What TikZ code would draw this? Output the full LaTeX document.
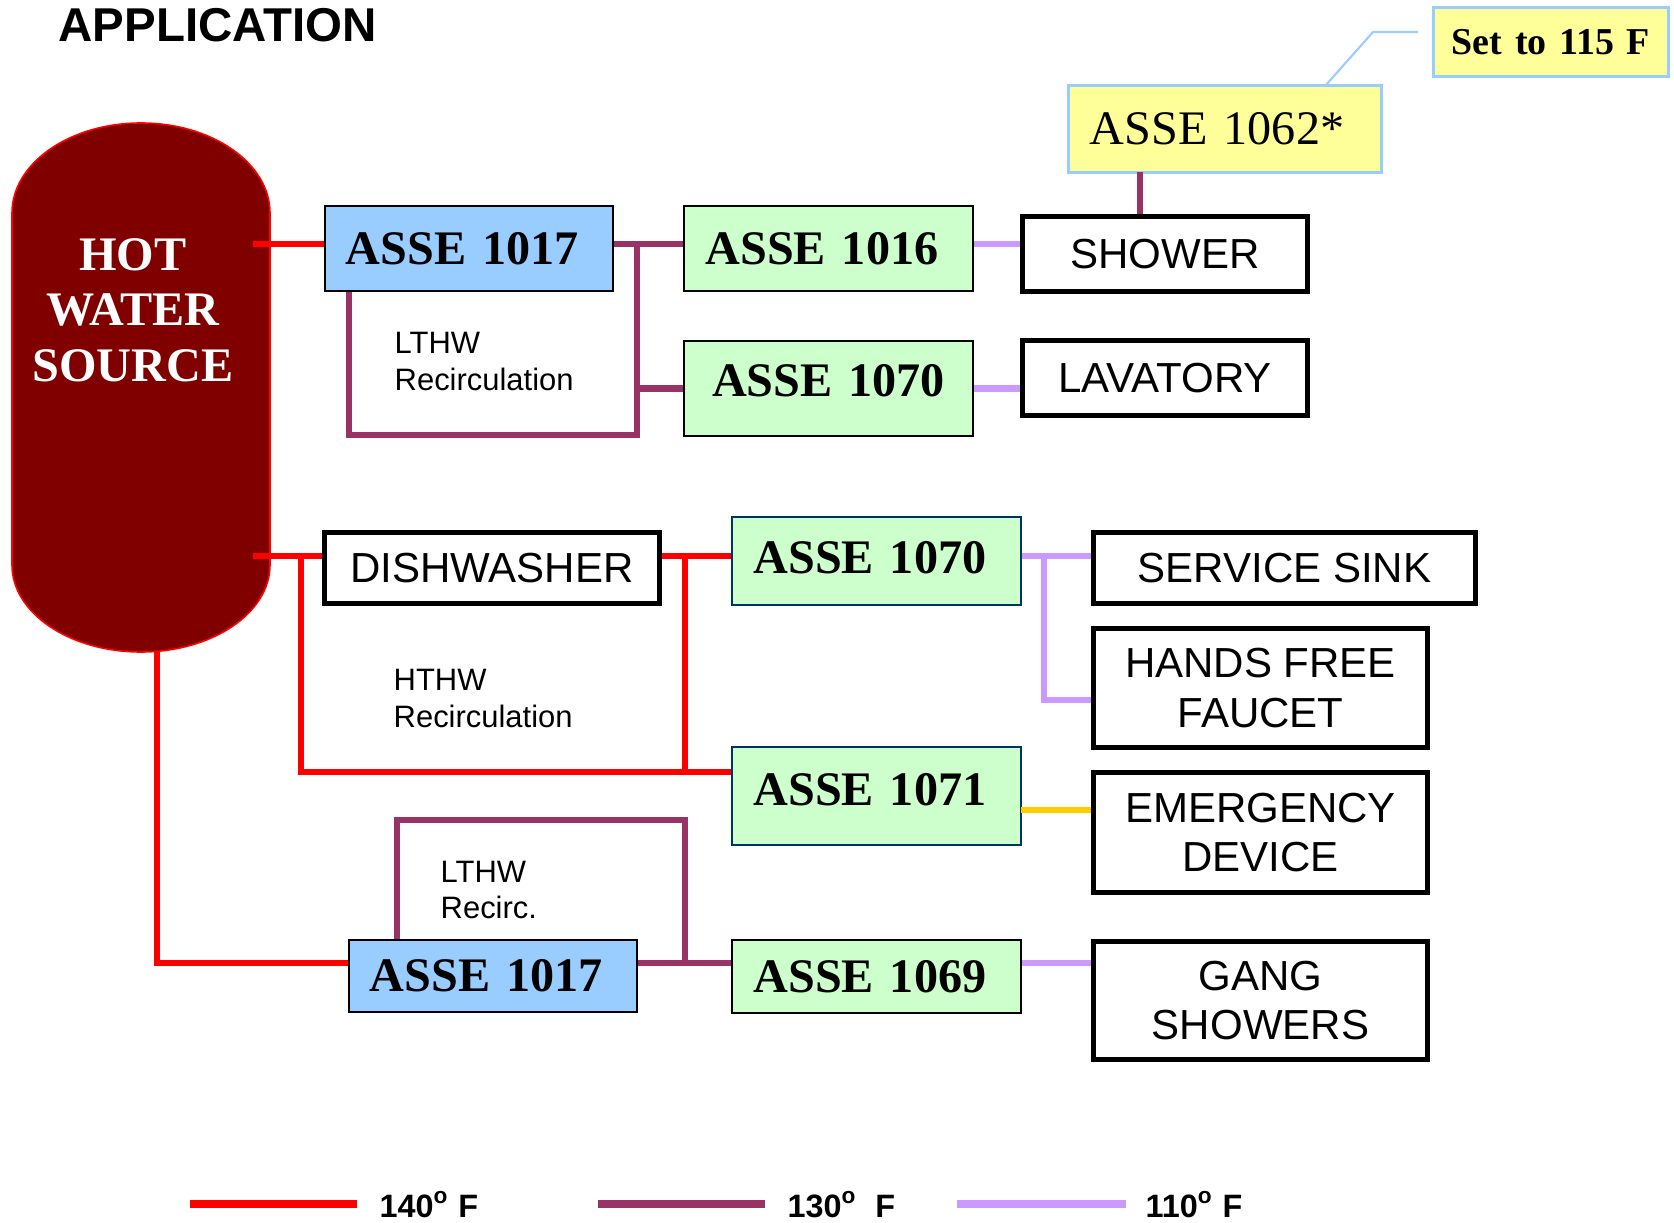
\documentclass[tikz,border=0pt]{standalone}
\usepackage{fontspec}
\setmainfont{Liberation Serif}
\setsansfont{Liberation Sans}
\usetikzlibrary{positioning}

\definecolor{tankred}{HTML}{800000}
\definecolor{hotred}{HTML}{FF0000}
\definecolor{warmplum}{HTML}{993366}
\definecolor{coollilac}{HTML}{CC99FF}
\definecolor{safegold}{HTML}{FFCC00}
\definecolor{valveblue}{HTML}{99CCFF}
\definecolor{valvegreen}{HTML}{CCFFCC}
\definecolor{noteyellow}{HTML}{FFFF99}
\definecolor{edgenavy}{HTML}{003366}

\begin{document}
\begin{tikzpicture}[x = .01cm, y = -.01cm,
    valve/.style = {draw, line width = .6pt, inner xsep = .21cm, inner ysep = 0pt, align = left, text width = 2.46cm, font = \fontsize{13.7}{16}\selectfont\bfseries},
    fixture/.style = {draw, line width = 1.55pt, inner sep = 0pt, align = center, font = \sffamily\fontsize{11.95}{14.2}\selectfont},
    note/.style = {draw = valveblue, fill = noteyellow, line width = .85pt, inner xsep = .21cm, inner ysep = 0pt},
    recirc/.style = {anchor = north west, inner sep = 0pt, align = left, font = \sffamily\fontsize{8.8}{10.5}\selectfont},
    legend/.style = {anchor = base west, inner sep = 0pt, font = \sffamily\bfseries\fontsize{9.2}{11}\selectfont},
    pipe/.style = {line width = 1.85pt},
    hot/.style = {pipe, hotred},
    warm/.style = {pipe, warmplum},
    cool/.style = {pipe, coollilac},
    tempered/.style = {pipe, safegold}]
    \useasboundingbox (0,0) rectangle (1674,1222);

    % title and tank
    \node[anchor = north west, inner sep = 0pt, font = \sffamily\bfseries\fontsize{13.5}{16}\selectfont] (title) at (58,8) {APPLICATION};
    \filldraw[draw = hotred, fill = tankred, line width = .45pt] (12,213) arc[start angle = 180, end angle = 360, x radius = 129, y radius = 90] -- (270,565) arc[start angle = 0, end angle = 180, x radius = 129, y radius = 87] -- cycle;
    \node[align = center, text = white, font = \fontsize{13.7}{15.8}\selectfont\bfseries] (src) at (133,310) {HOT\\WATER\\SOURCE};

    % low temperature branch
    \node[valve, fill = valveblue, minimum height = .85cm] (a1017) at (469,248.5) {ASSE 1017};
    \node[valve, fill = valvegreen, minimum height = .85cm] (a1016) at (828.5,248.5) {ASSE 1016};
    \node[valve, fill = valvegreen, minimum height = .95cm, align = center, text depth = .16cm] (a1070u) at (828.5,388.5) {ASSE 1070};
    \node[fixture, minimum width = 2.85cm, minimum height = .75cm] (shower) at (1165,254) {SHOWER};
    \node[fixture, minimum width = 2.85cm, minimum height = .75cm] (lav) at (1165,378) {LAVATORY};
    \node[note, align = left, text width = 2.70cm, minimum height = .86cm, font = \fontsize{13.7}{16}\selectfont] (a1062) at (1225,129) {ASSE 1062*};
    \node[note, inner xsep = .08cm, align = center, text width = 2.18cm, minimum height = .69cm, font = \fontsize{10.8}{13}\selectfont\bfseries] (set115) at (1551,42) {Set to 115 F};
    \node[recirc] (lt1) at (394,332) {LTHW\\Recirculation};

    % high temperature branch
    \node[fixture, minimum width = 3.35cm, minimum height = .71cm] (dish) at (492,568) {DISHWASHER};
    \node[valve, fill = valvegreen, draw = edgenavy, minimum height = .88cm, text depth = .08cm] (a1070l) at (876.5,561) {ASSE 1070};
    \node[valve, fill = valvegreen, draw = edgenavy, minimum height = .98cm, text depth = .14cm] (a1071) at (876.5,796) {ASSE 1071};
    \node[fixture, minimum width = 3.82cm, minimum height = .71cm] (sink) at (1284.5,568) {SERVICE SINK};
    \node[fixture, minimum width = 3.34cm, minimum height = 1.19cm] (hands) at (1260.5,688) {HANDS FREE\\FAUCET};
    \node[fixture, minimum width = 3.34cm, minimum height = 1.2cm] (emerg) at (1260.5,832.5) {EMERGENCY\\DEVICE};
    \node[recirc] (ht1) at (393,669) {HTHW\\Recirculation};

    % gang shower branch
    \node[valve, fill = valveblue, minimum height = .72cm] (a1017l) at (493,976) {ASSE 1017};
    \node[valve, fill = valvegreen, minimum height = .73cm] (a1069) at (876.5,976.5) {ASSE 1069};
    \node[fixture, minimum width = 3.34cm, minimum height = 1.18cm] (gang) at (1260.5,1000.5) {GANG\\SHOWERS};
    \node[recirc] (lt2) at (440,860) {LTHW\\Recirc.};

    % pipe junctions
    \coordinate (tk1) at (253,244);
    \coordinate (tk2) at (253,556);
    \coordinate (tk3) at (157,652);
    \coordinate (j1) at (637,244);
    \coordinate (r1) at (349,435);
    \coordinate (c1) at (1140,172);
    \coordinate (k0) at (1325,86);
    \coordinate (k1) at (1373,32);
    \coordinate (k2) at (1418,32);
    \coordinate (j2) at (685,556);
    \coordinate (j3) at (301,772);
    \coordinate (j4) at (157,963);
    \coordinate (j5) at (685,963);
    \coordinate (r2) at (397,820);
    \coordinate (j6) at (1044,556);
    \coordinate (j7) at (1044,700);
    \coordinate (e1) at (1021,810);

    % pipes
    \draw[hot] (tk1) -- (tk1 -| a1017.west);
    \draw[warm] (a1017.east |- j1) -- (a1016.west |- j1);
    \draw[warm] (j1) -- (j1 |- a1070u.west) -- (a1070u.west);
    \draw[warm] (r1 |- a1017.south) -- (r1) -| (j1);
    \draw[cool] (a1016.east |- j1) -- (shower.west |- j1);
    \draw[cool] (a1070u.east) -- (lav.west |- a1070u.east);
    \draw[warm] (c1) -- (c1 |- shower.north);
    \draw[valveblue, line width = .6pt] (k0) -- (k1) -- (k2);

    \draw[hot] (tk2) -- (dish.west |- tk2);
    \draw[hot] (dish.east |- j2) -- (a1070l.west |- j2);
    \draw[hot] (j3 |- tk2) -- (j3) -- (a1071.west |- j3);
    \draw[hot] (j2) -- (j2 |- j3);
    \draw[cool] (a1070l.east |- j6) -- (sink.west |- j6);
    \draw[cool] (j6) -- (j7) -- (hands.west |- j7);
    \draw[tempered] (e1) -- (emerg.west |- e1);

    \draw[hot] (tk3) -- (j4) -- (a1017l.west |- j4);
    \draw[warm] (a1017l.east |- j5) -- (a1069.west |- j5);
    \draw[warm] (r2 |- a1017l.north) -- (r2) -| (j5);
    \draw[cool] (a1069.east |- j5) -- (gang.west |- j5);

    % legend
    \draw[hot, line width = 2.3pt] (190,1204) -- (357,1204);
    \node[legend] (k140) at (379,1217) {140\textsuperscript{o} F};
    \draw[warm, line width = 2.3pt] (598,1204) -- (765,1204);
    \node[legend] (k130) at (787,1217) {130\textsuperscript{o}\ \ F};
    \draw[cool, line width = 2.3pt] (957,1204) -- (1126,1204);
    \node[legend] (k110) at (1145,1217) {110\textsuperscript{o} F};
\end{tikzpicture}
\end{document}
